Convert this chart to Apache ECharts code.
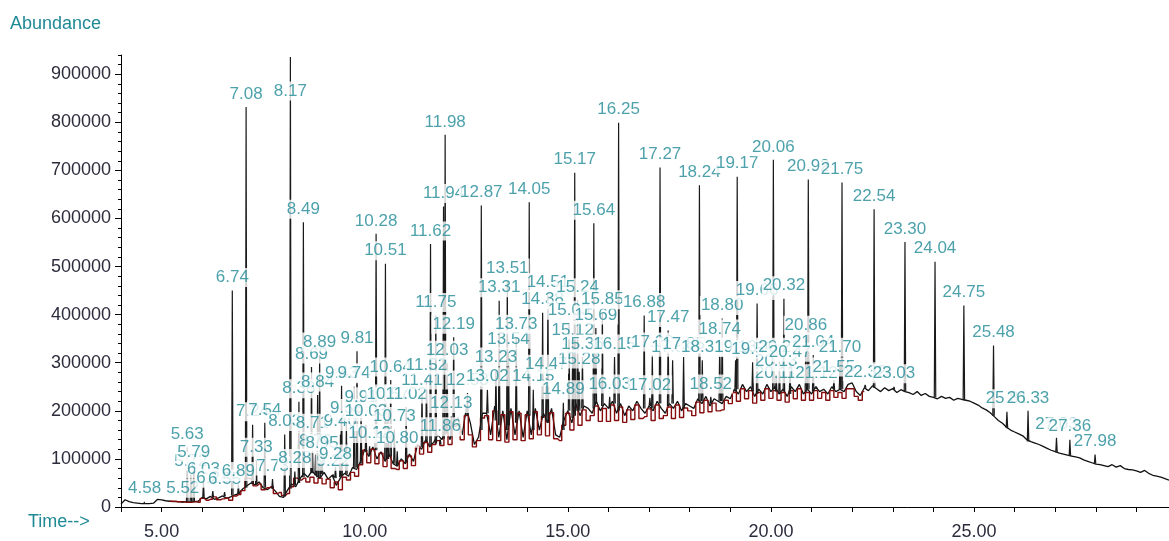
<!DOCTYPE html>
<html>
<head>
<meta charset="utf-8">
<script src="https://cdn.jsdelivr.net/npm/echarts@6/dist/echarts.min.js"></script>
<style>html,body{margin:0;padding:0;background:#fff}#chart{width:1169px;height:541px}</style>
</head>
<body>
<div id="chart"></div>
<script>
// ---------- DATA (abundance values in thousands) ----------
// Total ion trace, sampled every 0.1 min from 4.0 min
const traceStart = 4.0;
const traceStep = 0.1;
const traceValues = [
  6, 15, 11, 9, 8, 7, 7, 7, 8, 16,
  15, 13, 12, 11, 11, 10, 11, 10, 11, 12,
  20, 17, 22, 16, 19, 23, 18, 21, 25, 28,
  38, 44, 50, 46, 52, 40, 36, 42, 33, 22,
  20, 35, 48, 42, 58, 70, 62, 75, 66, 60,
  72, 58, 66, 45, 60, 70, 64, 82, 78, 95,
  120, 105, 125, 100, 115, 95, 110, 90, 85, 100,
  90, 110, 95, 130, 120, 140, 125, 135, 150, 140,
  165, 140, 175, 185, 150, 205, 175, 130, 145, 195,
  195, 150, 210, 145, 200, 140, 205, 150, 200, 145,
  200, 150, 205, 160, 195, 175, 205, 150, 145, 180,
  200, 175, 215, 190, 210, 205, 195, 220, 200, 215,
  205, 220, 195, 215, 190, 210, 200, 220, 205, 195,
  210, 200, 220, 205, 195, 215, 205, 220, 200, 215,
  210, 205, 225, 215, 230, 210, 225, 220, 215, 230,
  225, 245, 235, 255, 240, 250, 230, 245, 235, 255,
  240, 250, 235, 245, 230, 250, 240, 255, 235, 245,
  235, 250, 240, 245, 235, 250, 240, 245, 240, 255,
  258, 240, 232, 248, 242, 252, 246, 240, 248, 242,
  246, 238, 244, 240, 238, 234, 240, 232, 236, 230,
  228, 225, 230, 226, 228, 222, 226, 224, 222, 220,
  216, 212, 206, 202, 196, 188, 180, 174, 166, 160,
  156, 152, 148, 140, 136, 133, 130, 126, 122, 118,
  115, 112, 110, 108, 106, 104, 102, 98, 95, 92,
  89, 88, 86, 84, 88, 83, 86, 80, 78, 77,
  75, 72, 76, 70, 66, 64, 62, 59, 56
];

// Integration baseline (red), sampled every 0.1 min from 5.2 min
const baseStart = 5.2;
const baseStep = 0.1;
const baseValues = [
  12, 12, 11, 11, 10, 10, 11, 10,
  18, 14, 16, 21, 15, 17, 19, 14, 23, 26,
  34, 60, 58, 44, 48, 36, 40, 42, 28, 30,
  24, 28, 42, 60, 56, 60, 52, 62, 50, 60,
  48, 58, 40, 52, 36, 62, 56, 72, 64, 88,
  118, 92, 120, 90, 112, 84, 106, 80, 78, 96,
  80, 106, 86, 126, 110, 134, 114, 130, 138, 128,
  155, 130, 168, 172, 140, 190, 150, 125, 138, 185,
  190, 140, 200, 138, 192, 135, 198, 140, 195, 138,
  192, 142, 198, 150, 188, 148, 196, 142, 138, 170,
  195, 160, 208, 170, 202, 180, 190, 210, 178, 205,
  178, 212, 180, 208, 176, 202, 182, 212, 184, 188,
  204, 180, 212, 184, 190, 208, 184, 212, 186, 206,
  200, 190, 218, 196, 222, 198, 216, 200, 202, 222,
  215, 238, 220, 246, 225, 242, 216, 238, 222, 246,
  226, 242, 222, 238, 218, 242, 225, 246, 222, 238,
  222, 242, 226, 238, 222, 242, 228, 238, 226, 246,
  246, 230, 222, 240
];

// Labelled peaks: retention time (min), apex and foot abundance (thousands)
const peakTimes = [
  4.58, 5.52, 5.63, 5.72, 5.79, 6.03, 6.26, 6.55, 6.74, 6.89,
  7.08, 7.24, 7.33, 7.54, 7.73, 8.03, 8.17, 8.28, 8.38, 8.49,
  8.69, 8.71, 8.79, 8.84, 8.89, 8.95, 9.22, 9.28, 9.40, 9.43,
  9.55, 9.74, 9.81, 9.91, 10.03, 10.12, 10.28, 10.51, 10.57, 10.64,
  10.73, 10.80, 11.02, 11.41, 11.52, 11.62, 11.75, 11.86, 11.94, 11.98,
  12.03, 12.13, 12.19, 12.53, 12.87, 13.02, 13.23, 13.31, 13.51, 13.54,
  13.73, 14.05, 14.15, 14.38, 14.47, 14.51, 14.89, 15.03, 15.12, 15.17,
  15.24, 15.28, 15.36, 15.64, 15.69, 15.85, 16.03, 16.15, 16.25, 16.88,
  17.02, 17.08, 17.27, 17.47, 17.58, 17.85, 18.24, 18.31, 18.52, 18.74,
  18.80, 19.13, 19.17, 19.55, 19.66, 20.06, 20.11, 20.13, 20.21, 20.32,
  20.47, 20.86, 20.92, 21.04, 21.12, 21.55, 21.70, 21.75, 22.32, 22.54,
  23.03, 23.30, 24.04, 24.75, 25.48, 25.81, 26.33, 27.03, 27.36, 27.98
];
const peakHeights = [
  11, 12, 124, 68, 87, 52, 33, 31, 450, 47,
  832, 171, 97, 175, 58, 151, 936, 74, 219, 592,
  291, 147, 109, 233, 316, 105, 68, 83, 151, 252,
  178, 250, 324, 202, 171, 126, 568, 506, 208, 264,
  161, 116, 208, 237, 268, 547, 398, 140, 625, 774,
  299, 188, 353, 237, 627, 244, 285, 429, 470, 322,
  353, 634, 244, 404, 270, 440, 217, 382, 341, 695,
  429, 281, 312, 590, 372, 404, 229, 312, 799, 398,
  227, 316, 706, 367, 305, 312, 669, 305, 229, 343,
  392, 305, 687, 301, 423, 722, 250, 275, 305, 433,
  295, 351, 681, 316, 250, 264, 305, 675, 254, 619,
  250, 551, 510, 419, 336, 198, 200, 144, 140, 109
];
const peakFeet = [
  7, 10, 11, 11, 11, 18, 20, 22, 24, 27,
  40, 48, 46, 40, 38, 22, 38, 45, 50, 62,
  70, 72, 66, 62, 60, 68, 62, 60, 62, 64,
  68, 80, 82, 90, 115, 108, 118, 98, 100, 105,
  90, 86, 92, 125, 135, 128, 132, 130, 142, 150,
  155, 145, 170, 190, 160, 195, 180, 170, 160, 170,
  175, 190, 160, 185, 180, 175, 160, 200, 185, 190,
  200, 200, 205, 205, 215, 210, 205, 215, 200, 205,
  210, 205, 215, 210, 215, 205, 220, 220, 215, 220,
  220, 240, 245, 240, 235, 245, 245, 240, 235, 240,
  235, 240, 245, 240, 245, 245, 245, 245, 248, 248,
  244, 240, 228, 222, 190, 164, 136, 114, 106, 90
];

// Axis ticks
const xTickValues = [4,5,6,7,8,9,10,11,12,13,14,15,16,17,18,19,20,21,22,23,24,25,26,27,28,29];
const xLabelValues = [5, 10, 15, 20, 25];
const yLabelValues = [0, 100000, 200000, 300000, 400000, 500000, 600000, 700000, 800000, 900000];

// ---------- BUILD ----------
const K = 1000;
const traceData = traceValues.map((v, i) => [+(traceStart + i * traceStep).toFixed(2), v * K]);
const baseData = baseValues.map((v, i) => [+(baseStart + i * baseStep).toFixed(2), v * K]);
const peakData = [];
const labelData = [];
const LABEL_CAP = 838000; // labels of off-scale peaks stay inside the plot
peakTimes.forEach((t, i) => {
  peakData.push([t - 0.018, peakFeet[i] * K], [t, peakHeights[i] * K], [t + 0.018, peakFeet[i] * K], ['-', '-']);
  labelData.push({ name: t.toFixed(2), value: [t, Math.min(peakHeights[i] * K, LABEL_CAP)] });
});

const TEAL = '#1f8a96';
const AXIS_TEXT = '#2c2c3c';
const FONT = '"Liberation Sans", Arial, sans-serif';

const chart = echarts.init(document.getElementById('chart'), null, { renderer: 'canvas' });
chart.setOption({
  animation: false,
  backgroundColor: '#ffffff',
  grid: { left: 121, right: 0, top: 55, bottom: 31, containLabel: false },
  graphic: [
    { type: 'text', left: 10, top: 15, style: { text: 'Abundance', fill: TEAL, font: '18px ' + FONT } },
    { type: 'text', left: 28, top: 513, style: { text: 'Time-->', fill: TEAL, font: '18px ' + FONT } }
  ],
  xAxis: {
    type: 'value', min: 4, max: 29.8, interval: 1,
    axisLine: { show: true, onZero: false, lineStyle: { color: '#000', width: 1 } },
    axisTick: { show: true, length: 5, customValues: xTickValues, lineStyle: { color: '#000' } },
    axisLabel: {
      show: true, customValues: xLabelValues, margin: 16,
      formatter: v => v.toFixed(2),
      color: AXIS_TEXT, fontSize: 18, fontFamily: FONT
    },
    splitLine: { show: false }
  },
  yAxis: [
    {
      type: 'value', min: 0, max: 940000, interval: 100000,
      axisLine: { show: true, lineStyle: { color: '#000', width: 1 } },
      axisTick: { show: true, length: 6, customValues: yLabelValues, lineStyle: { color: '#000' } },
      axisLabel: {
        show: true, customValues: yLabelValues, margin: 10,
        formatter: v => String(v),
        color: AXIS_TEXT, fontSize: 18, fontFamily: FONT
      },
      splitLine: { show: false }
    },
    {
      type: 'value', min: 0, max: 940000, interval: 20000, position: 'left',
      axisLine: { show: false },
      axisTick: { show: true, length: 3, lineStyle: { color: '#000' } },
      axisLabel: { show: false },
      splitLine: { show: false }
    }
  ],
  series: [
    {
      name: 'trace', type: 'line', data: traceData, symbol: 'none', silent: true, z: 2,
      lineStyle: { color: '#111', width: 1.3 }
    },
    {
      name: 'baseline', type: 'line', data: baseData, step: 'middle', symbol: 'none', silent: true, z: 3,
      lineStyle: { color: '#850c0c', width: 1.4 }
    },
    {
      name: 'peaks', type: 'line', data: peakData, symbol: 'none', silent: true, z: 4, connectNulls: false,
      lineStyle: { color: '#1a1a1a', width: 1.2 }
    },
    {
      name: 'labels', type: 'scatter', data: labelData, symbolSize: 1, silent: true, z: 10,
      itemStyle: { color: 'rgba(0,0,0,0)' },
      label: {
        show: true, position: 'top', distance: 3, formatter: '{b}',
        color: TEAL, backgroundColor: '#ffffff', padding: [0, 1],
        fontSize: 17, lineHeight: 19, fontFamily: FONT
      }
    }
  ]
});
</script>
</body>
</html>
